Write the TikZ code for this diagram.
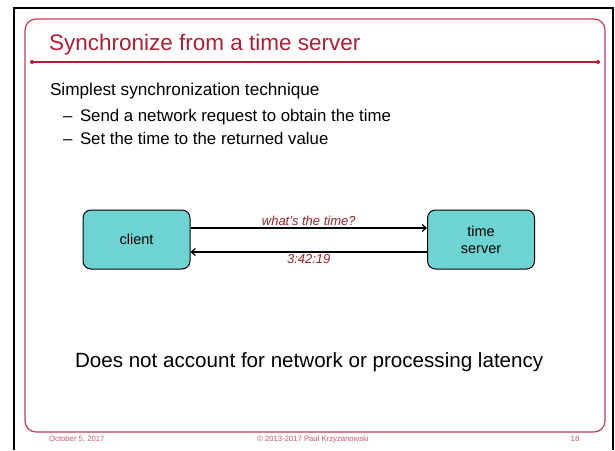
\documentclass[tikz,border=0pt]{standalone}
\usepackage{fontspec}
\setmainfont{Liberation Sans}
\usetikzlibrary{arrows.meta}

\definecolor{slidered}{RGB}{180,28,50}
\definecolor{framered}{RGB}{195,60,80}
\definecolor{labelred}{RGB}{155,35,40}
\definecolor{footred}{RGB}{205,90,105}
\definecolor{boxteal}{RGB}{110,212,210}

\tikzset{
  txt/.style={anchor=base west, inner sep=0pt, outer sep=0pt},
  bullet/.style={txt, font=\fontsize{16.8}{20}\selectfont},
  box/.style={draw=black, line width=1pt, fill=boxteal, rounded corners=8pt,
              minimum width=107pt, minimum height=59pt, align=center,
              font=\fontsize{14.5}{17}\selectfont},
  msg/.style={draw=black, line width=1.2pt, -{Straight Barb[length=4pt,width=7pt]}},
  msglabel/.style={font=\fontsize{13}{15}\selectfont\itshape, text=labelred, inner sep=2pt},
  foot/.style={anchor=base, inner sep=0pt, text=footred, font=\fontsize{7.7}{9}\selectfont}
}

\begin{document}
\begin{tikzpicture}[x=1pt,y=-1pt]
  \useasboundingbox (0,0) rectangle (615,450);

  % outer black frame
  \draw[line width=2pt, black] (14,450) -- (14,8) -- (613,8) -- (613,450);

  % rounded slide frame
  \draw[framered, line width=1.2pt, rounded corners=11pt] (25,19) rectangle (605,432);

  % title and rule
  \node[txt, text=slidered, font=\fontsize{22.5}{27}\selectfont] (title) at (49,50) {Synchronize from a time server};
  \coordinate (ruleL) at (32,62);
  \coordinate (ruleR) at (598,62);
  \draw[slidered, line width=1.4pt] (ruleL) -- (ruleR);
  \fill[slidered] (ruleL) circle (2pt) (ruleR) circle (2pt);

  % body text
  \node[txt, font=\fontsize{17.2}{20}\selectfont] (head) at (50,95) {Simplest synchronization technique};
  \node[bullet] (dash1) at (63,121) {–};
  \node[bullet] (b1) at (80,121) {Send a network request to obtain the time};
  \node[bullet] (dash2) at (63,144) {–};
  \node[bullet] (b2) at (80,144) {Set the time to the returned value};

  % client / server exchange
  \node[box] (client) at (136.5,239.5) {client};
  \node[box] (server) at (481,239.5) {time\\server};

  \draw[msg] ([yshift=11.5pt]client.east) -- node[msglabel, above] (q) {what’s the time?} ([yshift=11.5pt]server.west);
  \draw[msg] ([yshift=-12.5pt]server.west) -- node[msglabel, below] (a) {3:42:19} ([yshift=-12.5pt]client.east);

  % closing remark
  \node[txt, font=\fontsize{20.6}{24}\selectfont] (note) at (75,367) {Does not account for network or processing latency};

  % footer
  \node[foot, anchor=base west] (date) at (49,441) {October 5, 2017};
  \node[foot] (copy) at (313,441) {© 2013-2017 Paul Krzyzanowski};
  \node[foot] (page) at (575,441) {18};
\end{tikzpicture}
\end{document}
